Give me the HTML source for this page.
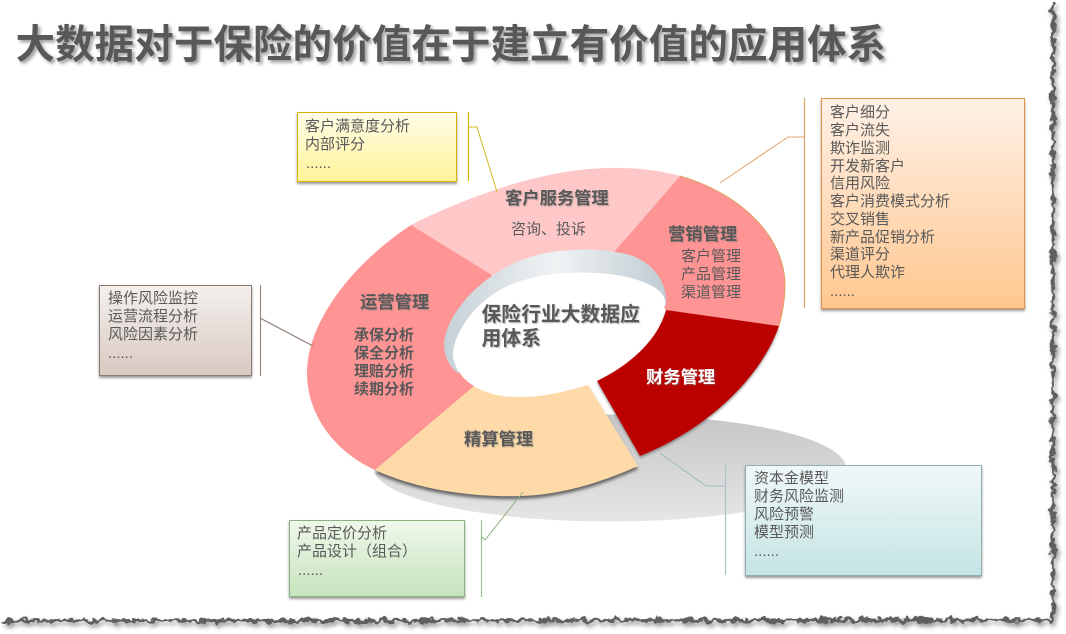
<!DOCTYPE html>
<html lang="zh">
<head>
<meta charset="utf-8">
<style>
html,body{margin:0;padding:0;background:#fff;width:1066px;height:634px;overflow:hidden}
svg{display:block}
text{font-family:"Liberation Sans","Noto Sans CJK SC",sans-serif;fill:#595959;font-size:15px}
.b{font-weight:bold}
.h{font-weight:bold;font-size:17.3px}
.d{font-family:"Liberation Sans",sans-serif}
</style>
</head>
<body>
<svg width="1066" height="634" viewBox="0 0 1066 634" xmlns="http://www.w3.org/2000/svg">
<defs>
<filter id="torn" filterUnits="userSpaceOnUse" x="0" y="0" width="1066" height="634">
<feTurbulence type="fractalNoise" baseFrequency="0.15" numOctaves="2" seed="7" result="n"/>
<feDisplacementMap in="SourceGraphic" in2="n" scale="10" xChannelSelector="R" yChannelSelector="G"/>
</filter>
<filter id="tornS" filterUnits="userSpaceOnUse" x="0" y="0" width="1066" height="634">
<feTurbulence type="fractalNoise" baseFrequency="0.15" numOctaves="2" seed="7" result="n"/>
<feDisplacementMap in="SourceGraphic" in2="n" scale="10" xChannelSelector="R" yChannelSelector="G"/>
<feGaussianBlur stdDeviation="2"/>
</filter>
<filter id="sh" x="-10%" y="-10%" width="120%" height="125%"><feDropShadow dx="0" dy="2" stdDeviation="1.2" flood-color="#555" flood-opacity=".6"/></filter>
<filter id="sh2" x="-10%" y="-10%" width="120%" height="125%"><feDropShadow dx="0" dy="3" stdDeviation="1.5" flood-color="#444" flood-opacity=".8"/></filter>
<filter id="tsh" x="-5%" y="-20%" width="110%" height="150%"><feDropShadow dx="2.5" dy="2.5" stdDeviation="1.5" flood-color="#777" flood-opacity=".7"/></filter>
<filter id="ts" x="-5%" y="-20%" width="110%" height="150%"><feDropShadow dx="1" dy="1" stdDeviation=".6" flood-color="#777" flood-opacity=".5"/></filter>
<linearGradient id="gy" x1="0" y1="0" x2="0" y2="1"><stop offset="0" stop-color="#fffde8"/><stop offset="1" stop-color="#fff398"/></linearGradient>
<linearGradient id="go" x1="0" y1="0" x2="0" y2="1"><stop offset="0" stop-color="#fff1e7"/><stop offset="1" stop-color="#ffc78f"/></linearGradient>
<linearGradient id="gb" x1="0" y1="0" x2="0" y2="1"><stop offset="0" stop-color="#f4f0ee"/><stop offset="1" stop-color="#d8c9c0"/></linearGradient>
<linearGradient id="gg" x1="0" y1="0" x2="0" y2="1"><stop offset="0" stop-color="#eff8eb"/><stop offset="1" stop-color="#c6e3bc"/></linearGradient>
<linearGradient id="gt" x1="0" y1="0" x2="0" y2="1"><stop offset="0" stop-color="#f0f8f8"/><stop offset="1" stop-color="#c5e4e4"/></linearGradient>
<linearGradient id="gs" x1="0" y1="0" x2="0" y2="1"><stop offset="0" stop-color="#c6c6c6"/><stop offset="1" stop-color="#e6e6e6"/></linearGradient>
<linearGradient id="gr" x1="0" y1="0" x2="1" y2="0"><stop offset="0" stop-color="#c5d1d8"/><stop offset=".5" stop-color="#f0f3f4"/><stop offset="1" stop-color="#c0ccd3"/></linearGradient>
</defs>

<!-- torn edge -->
<path d="M1053,3 L1053,620 L3,621" fill="none" stroke="#999" stroke-width="4" filter="url(#tornS)" transform="translate(2,3)"/>
<path d="M1053,3 L1053,620 L3,621" fill="none" stroke="#5f5f5f" stroke-width="3.5" filter="url(#torn)"/>

<!-- title -->
<text x="15.5" y="58" class="b" style="font-size:39.6px" filter="url(#tsh)">大数据对于保险的价值在于建立有价值的应用体系</text>

<!-- ground shadow -->
<ellipse cx="610" cy="468" rx="236" ry="53.5" fill="url(#gs)"/>

<!-- segments -->
<path d="M411,225 L492,275 L614,252 L680,176 C640,165 590,165 540,177 C500,186 450,205 411,225 Z" fill="#ffc8c8"/>
<path d="M680,176 C745,195 785,240 785,285 C785,300 782,315 779,326 L666,310 L614,252 Z" fill="#ff9494" stroke="none"/>
<path d="M680,176 C745,195 785,240 785,285 C785,300 782,315 779,326" fill="none" stroke="#e0a060" stroke-width="1"/>
<path d="M411,225 L492,275 L490,340 L480,381 L375,470 C335,452 307,415 307,373 C307,320 355,262 411,225 Z" fill="#ff9494"/>
<path d="M474,386 L375,470 C420,490 470,497 520,496 C560,495 600,483 638,466 L588,385 C550,397 505,400 474,386 Z" fill="#fedaa8" filter="url(#sh2)"/>
<path d="M666,310 L779,326 C760,380 705,430 640,456 L597,381 C630,365 658,340 666,310 Z" fill="#bb0000" filter="url(#sh)"/>

<!-- inner bevel and hole -->
<path d="M458,373 C444,362 441,345 447,330 C458,300 490,270 530,257 C560,248 600,247 630,255 C655,263 668,285 666,305 L560,340 Z" fill="url(#gr)"/>
<path d="M453,357 C452,335 475,300 510,285 C540,272 580,271 610,274 C645,279 668,290 665,305 C662,325 630,362 590,383 C565,393 540,397 520,397 C490,398 458,385 453,357 Z" fill="#fff"/>

<!-- connectors -->
<g fill="none" stroke-width="1">
<path d="M468.5,112V181" stroke="#d4b400" stroke-width="1.2"/>
<path d="M468.5,127H477L497,192" stroke="#d4b820"/>
<path d="M804.5,98V308" stroke="#dca468" stroke-width="1.2"/>
<path d="M804.5,137H788L720,183" stroke="#dca468"/>
<path d="M260.5,285V376" stroke="#9a8a80" stroke-width="1.2"/>
<path d="M260,318L313,346" stroke="#8a7a70"/>
<path d="M481.5,520V597" stroke="#9cc094" stroke-width="1.2"/>
<path d="M482,537L485,540L523,492" stroke="#8cb082"/>
<path d="M725.5,465V575" stroke="#a8c4c4" stroke-width="1.2"/>
<path d="M725.5,486H706L660,453" stroke="#9cbcbc"/>
</g>

<!-- boxes -->
<g filter="url(#sh)">
<rect x="297.5" y="112.5" width="159" height="69" fill="url(#gy)" stroke="#d4b400"/>
<rect x="821.5" y="98.5" width="203" height="210" fill="url(#go)" stroke="#e0954a"/>
<rect x="99.5" y="285.5" width="152" height="90" fill="url(#gb)" stroke="#8a7a70"/>
<rect x="289.5" y="520.5" width="175" height="76" fill="url(#gg)" stroke="#8cb082"/>
<rect x="745.5" y="465.5" width="236" height="110" fill="url(#gt)" stroke="#8fb0b0"/>
</g>

<!-- box text -->
<text x="305" y="131">客户满意度分析</text>
<text x="305" y="149">内部评分</text>
<text x="306" y="168" class="d">......</text>

<text x="830" y="117">客户细分</text>
<text x="830" y="135">客户流失</text>
<text x="830" y="153">欺诈监测</text>
<text x="830" y="171">开发新客户</text>
<text x="830" y="188">信用风险</text>
<text x="830" y="206">客户消费模式分析</text>
<text x="830" y="224">交叉销售</text>
<text x="830" y="242">新产品促销分析</text>
<text x="830" y="259">渠道评分</text>
<text x="830" y="277">代理人欺诈</text>
<text x="830" y="296" class="d">......</text>

<text x="108" y="303">操作风险监控</text>
<text x="108" y="321">运营流程分析</text>
<text x="108" y="339">风险因素分析</text>
<text x="108" y="358" class="d">......</text>

<text x="297" y="538">产品定价分析</text>
<text x="297" y="556">产品设计（组合）</text>
<text x="298" y="575" class="d">......</text>

<text x="754" y="483">资本金模型</text>
<text x="754" y="501">财务风险监测</text>
<text x="754" y="519">风险预警</text>
<text x="754" y="537">模型预测</text>
<text x="754" y="556" class="d">......</text>

<!-- ring labels -->
<text x="505" y="204" class="h" filter="url(#ts)">客户服务管理</text>
<text x="511" y="234">咨询、投诉</text>
<text x="668" y="240" class="h" filter="url(#ts)">营销管理</text>
<text x="681" y="261">客户管理</text>
<text x="681" y="279">产品管理</text>
<text x="681" y="297">渠道管理</text>
<text x="360" y="308" class="h" filter="url(#ts)">运营管理</text>
<text x="354" y="340" class="b">承保分析</text>
<text x="354" y="358" class="b">保全分析</text>
<text x="354" y="376" class="b">理赔分析</text>
<text x="354" y="394" class="b">续期分析</text>
<text x="464" y="445" class="h" filter="url(#ts)">精算管理</text>
<text x="646" y="383" class="h" style="fill:#fff" filter="url(#ts)">财务管理</text>
<text x="481.5" y="321" class="b" style="font-size:19.8px" filter="url(#ts)">保险行业大数据应</text>
<text x="481.5" y="345" class="b" style="font-size:19.8px" filter="url(#ts)">用体系</text>
</svg>
</body>
</html>
